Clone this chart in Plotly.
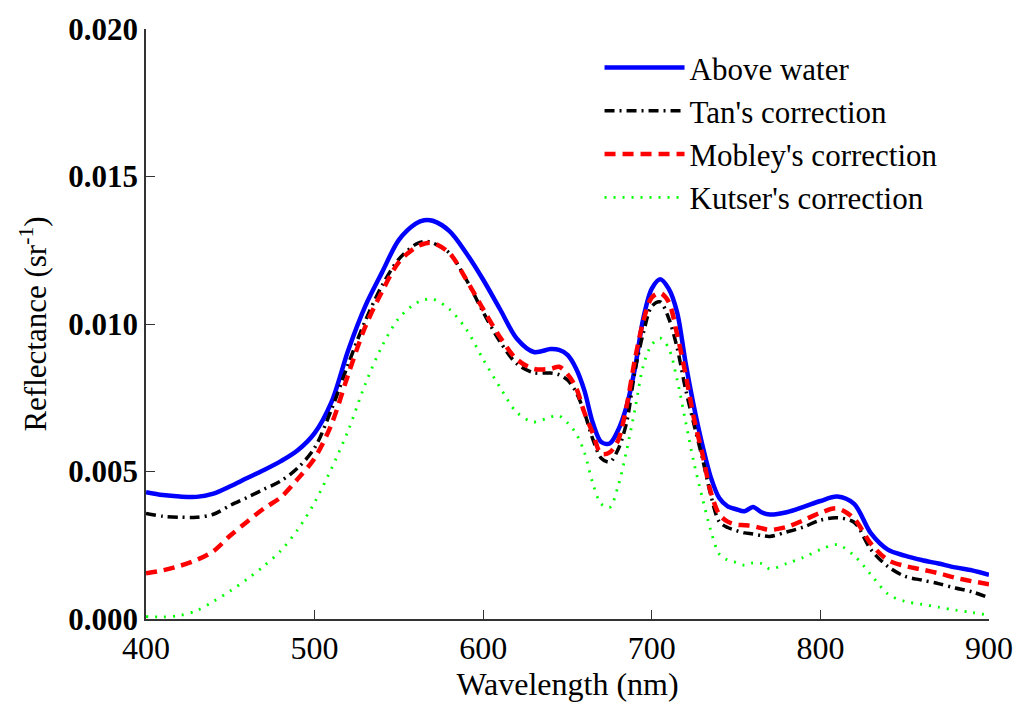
import plotly.graph_objects as go

wavelength = [400, 410, 420, 430, 440, 450, 460, 470, 480, 490, 500, 510, 520, 530, 540,
              550, 560, 565, 570, 580, 590, 600, 610, 620, 630, 640, 645, 650, 655, 660,
              665, 670, 675, 680, 685, 690, 695, 700, 705, 710, 715, 720, 725, 730, 735,
              740, 745, 750, 755, 760, 765, 770, 780, 790, 800, 810, 820, 830, 840, 850,
              860, 870, 880, 890, 900]

above_water = [0.00430, 0.00420, 0.00415, 0.00414, 0.00425, 0.00450, 0.00478, 0.00505, 0.00535, 0.00572,
               0.00630, 0.00735, 0.00912, 0.01060, 0.01175, 0.01285, 0.01340, 0.01352, 0.01350, 0.01315,
               0.01240, 0.01150, 0.01050, 0.00950, 0.00905, 0.00915, 0.00912, 0.00895, 0.00850, 0.00775,
               0.00665, 0.00600, 0.00595, 0.00640, 0.00720, 0.00850, 0.01020, 0.01120, 0.01152, 0.01120,
               0.01040, 0.00870, 0.00720, 0.00590, 0.00480, 0.00410, 0.00382, 0.00372, 0.00365, 0.00380,
               0.00362, 0.00354, 0.00362, 0.00380, 0.00400, 0.00415, 0.00390, 0.00290, 0.00235, 0.00215,
               0.00200, 0.00188, 0.00175, 0.00165, 0.00150]

tan_corr = [0.00358, 0.00348, 0.00345, 0.00345, 0.00355, 0.00385, 0.00412, 0.00440, 0.00468, 0.00512,
            0.00580, 0.00710, 0.00865, 0.01010, 0.01130, 0.01220, 0.01270, 0.01280, 0.01275, 0.01240,
            0.01150, 0.01040, 0.00940, 0.00865, 0.00835, 0.00834, 0.00828, 0.00810, 0.00770, 0.00700,
            0.00610, 0.00545, 0.00532, 0.00575, 0.00665, 0.00840, 0.00970, 0.01060, 0.01075, 0.01020,
            0.00920, 0.00780, 0.00660, 0.00545, 0.00420, 0.00330, 0.00310, 0.00300, 0.00292, 0.00288,
            0.00283, 0.00280, 0.00295, 0.00312, 0.00335, 0.00343, 0.00328, 0.00235, 0.00178, 0.00145,
            0.00132, 0.00120, 0.00105, 0.00092, 0.00072]

mobley_corr = [0.00155, 0.00165, 0.00180, 0.00200, 0.00230, 0.00283, 0.00330, 0.00375, 0.00413, 0.00475,
               0.00545, 0.00660, 0.00830, 0.00990, 0.01110, 0.01210, 0.01260, 0.01272, 0.01275, 0.01240,
               0.01150, 0.01050, 0.00955, 0.00880, 0.00848, 0.00848, 0.00855, 0.00830, 0.00785, 0.00700,
               0.00630, 0.00560, 0.00565, 0.00605, 0.00720, 0.00880, 0.01010, 0.01090, 0.01105, 0.01075,
               0.00965, 0.00830, 0.00680, 0.00560, 0.00430, 0.00355, 0.00330, 0.00320, 0.00318, 0.00315,
               0.00308, 0.00302, 0.00312, 0.00335, 0.00360, 0.00375, 0.00340, 0.00255, 0.00200, 0.00180,
               0.00168, 0.00155, 0.00140, 0.00128, 0.00118]

kutser_corr = [0.00008, 0.00007, 0.00012, 0.00028, 0.00060, 0.00095, 0.00135, 0.00180, 0.00232, 0.00303,
               0.00395, 0.00510, 0.00640, 0.00795, 0.00925, 0.01020, 0.01070, 0.01082, 0.01085, 0.01050,
               0.00982, 0.00880, 0.00785, 0.00700, 0.00668, 0.00685, 0.00689, 0.00665, 0.00630, 0.00565,
               0.00460, 0.00390, 0.00378, 0.00450, 0.00570, 0.00710, 0.00860, 0.00930, 0.00952, 0.00918,
               0.00812, 0.00670, 0.00530, 0.00410, 0.00300, 0.00220, 0.00200, 0.00192, 0.00182, 0.00190,
               0.00188, 0.00170, 0.00188, 0.00209, 0.00235, 0.00252, 0.00215, 0.00150, 0.00085, 0.00060,
               0.00050, 0.00040, 0.00030, 0.00022, 0.00013]

x_ticks = [400, 500, 600, 700, 800, 900]
y_ticks = [0.000, 0.005, 0.010, 0.015, 0.020]
y_tick_labels = ["0.000", "0.005", "0.010", "0.015", "0.020"]

FONT = "Liberation Serif"

fig = go.Figure()
fig.add_trace(go.Scatter(x=wavelength, y=above_water, mode="lines", name="Above water",
                         line=dict(color="#0000ff", width=4.5, dash="solid", shape="spline", smoothing=0.9)))
fig.add_trace(go.Scatter(x=wavelength, y=tan_corr, mode="lines", name="Tan's correction",
                         line=dict(color="#000000", width=3.5, dash="10px,5px,2px,5px", shape="spline", smoothing=0.9)))
fig.add_trace(go.Scatter(x=wavelength, y=mobley_corr, mode="lines", name="Mobley's correction",
                         line=dict(color="#ff0000", width=4.5, dash="11px,7px", shape="spline", smoothing=0.9)))
fig.add_trace(go.Scatter(x=wavelength, y=kutser_corr, mode="lines", name="Kutser's correction",
                         line=dict(color="#00ff00", width=2.8, dash="2px,7px", shape="spline", smoothing=0.9)))

fig.update_layout(
    width=1025, height=704,
    margin=dict(l=146, r=32, t=22, b=85),
    paper_bgcolor="white", plot_bgcolor="white",
    font=dict(family=FONT, size=32, color="black"),
    showlegend=True,
    legend=dict(x=0.538, y=0.98, xanchor="left", yanchor="top",
                bgcolor="rgba(0,0,0,0)", borderwidth=0,
                font=dict(family=FONT, size=31, color="black"),
                itemwidth=80, tracegroupgap=0),
    xaxis=dict(range=[400, 900], tickvals=x_ticks, ticks="inside", ticklen=9, tickwidth=1.2,
               tickcolor="#333333", showline=True, linecolor="#333333", linewidth=1.5,
               showgrid=False, zeroline=False, mirror=False,
               tickfont=dict(family=FONT, size=32, color="black"),
               title=dict(text="Wavelength (nm)", font=dict(family=FONT, size=32, color="black"), standoff=2)),
    yaxis=dict(range=[0, 0.020], tickvals=y_ticks, ticktext=y_tick_labels, ticks="inside", ticklen=9,
               tickwidth=1.2, tickcolor="#333333", showline=True, linecolor="#333333", linewidth=1.5,
               showgrid=False, zeroline=False, mirror=False,
               tickfont=dict(family=FONT, size=31, color="black", weight="bold"),
               title=dict(text="Reflectance (sr<sup>-1</sup>)", font=dict(family=FONT, size=31, color="black"), standoff=12)),
)

fig.write_html("out.html")
